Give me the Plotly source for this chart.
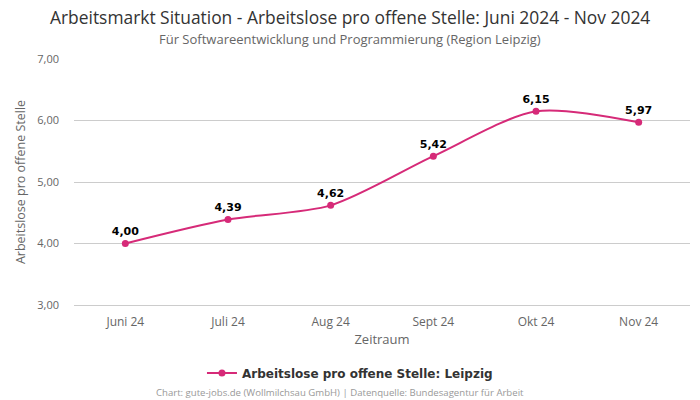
import plotly.graph_objects as go

months = ["Juni 24", "Juli 24", "Aug 24", "Sept 24", "Okt 24", "Nov 24"]
values = [4.00, 4.39, 4.62, 5.42, 6.15, 5.97]
labels = ["4,00", "4,39", "4,62", "5,42", "6,15", "5,97"]
y_ticks = [3, 4, 5, 6, 7]
y_ticklabels = ["3,00", "4,00", "5,00", "6,00", "7,00"]

color = "#d62a78"

fig = go.Figure()
fig.add_trace(go.Scatter(
    x=months, y=values, mode="lines+markers+text",
    line=dict(color=color, width=2, shape="spline", smoothing=0.8),
    marker=dict(color=color, size=7),
    text=labels, textposition="top center",
    textfont=dict(family="DejaVu Sans", size=11, color="#000000", weight="bold"),
    name="Arbeitslose pro offene Stelle: Leipzig",
))

fig.update_layout(
    width=700, height=400,
    margin=dict(l=74, r=10, t=59, b=95),
    paper_bgcolor="white", plot_bgcolor="white",
    xaxis=dict(
        type="category", range=[-0.5, 5.5],
        showgrid=False, showline=True, linecolor="#cccccc",
        ticks="", ticklabelstandoff=6,
        tickfont=dict(family="Open Sans", size=12, color="#666666"),
        title=dict(text="Zeitraum", font=dict(family="Open Sans", size=13, color="#666666"), standoff=5),
    ),
    yaxis=dict(
        range=[3, 7], tickvals=y_ticks, ticktext=y_ticklabels,
        showgrid=True, gridcolor="#cccccc", zeroline=False,
        tickfont=dict(family="Open Sans", size=11, color="#666666"),
        ticklabelstandoff=14,
        title=dict(text="Arbeitslose pro offene Stelle", font=dict(family="Open Sans", size=12.5, color="#666666"), standoff=8),
    ),
    showlegend=True,
    legend=dict(
        orientation="h", x=0.448, xanchor="center", y=-0.2764, yanchor="middle",
        font=dict(family="DejaVu Sans", size=12, color="#333333", weight="bold"),
    ),
    annotations=[
        dict(
            text="Arbeitsmarkt Situation - Arbeitslose pro offene Stelle: Juni 2024 - Nov 2024",
            xref="paper", yref="paper", x=0.448, xanchor="center",
            y=1.1707, yanchor="middle", showarrow=False,
            font=dict(family="Open Sans", size=17.4, color="#333333"),
        ),
        dict(
            text="Für Softwareentwicklung und Programmierung (Region Leipzig)",
            xref="paper", yref="paper", x=0.448, xanchor="center",
            y=1.0813, yanchor="middle", showarrow=False,
            font=dict(family="Open Sans", size=13, color="#666666"),
        ),
        dict(
            text="Chart: gute-jobs.de (Wollmilchsau GmbH) | Datenquelle: Bundesagentur für Arbeit",
            xref="paper", yref="paper", x=0.4318, xanchor="center",
            y=-0.3537, yanchor="middle", showarrow=False,
            font=dict(family="Open Sans", size=9.6, color="#999999"),
        ),
    ],
)

fig.write_html("out.html")
